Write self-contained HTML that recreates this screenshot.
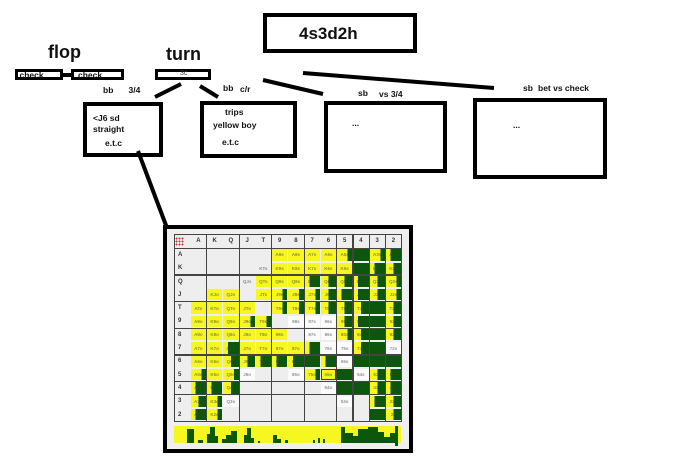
<!DOCTYPE html>
<html><head><meta charset="utf-8"><style>
html,body{margin:0;padding:0;background:#fff;}
body{width:700px;height:465px;position:relative;overflow:hidden;font-family:"Liberation Sans",sans-serif;}
.bx{position:absolute;box-sizing:border-box;border:4px solid #000;background:#fff;}
.sb{position:absolute;box-sizing:border-box;border:3px solid #000;background:#fff;}
.t{position:absolute;font-weight:bold;font-size:8.5px;line-height:1;white-space:nowrap;color:#111;}
.big{position:absolute;font-weight:bold;font-size:18px;line-height:1;white-space:nowrap;color:#111;}
.frame{position:absolute;left:163px;top:225px;width:250px;height:228px;box-sizing:border-box;border:4px solid #000;background:#efefef;}
.m{position:absolute;left:174px;top:234px;width:227.5px;height:187.2px;display:grid;grid-template-columns:repeat(14,16.25px);grid-template-rows:14.3px repeat(13,13.3px);background:#eeeeee;}
.m i{font-style:normal;font-size:4.5px;font-weight:bold;color:rgba(60,60,60,.55);display:flex;align-items:center;justify-content:center;margin:1px .5px;overflow:hidden;white-space:nowrap;}
.m b{font-size:6px;font-weight:bold;color:#333;display:flex;align-items:center;justify-content:center;}
.m b.r{justify-content:flex-start;padding-left:4px;}
.Y{background:#f6f620;}
.G{background:#0b570b;}
.H{background:linear-gradient(90deg,#f6f620 50%,#0b570b 50%);}
.y{background:linear-gradient(90deg,#f6f620 70%,#0b570b 70%);}
.g{background:linear-gradient(90deg,#f6f620 30%,#0b570b 30%);}
.w{background:#fbfbfb;}
.rd{outline:1px solid #c00;outline-offset:-1px;}
.vl{position:absolute;top:234px;width:1.4px;height:187.5px;background:#444;}
.hl{position:absolute;left:174px;height:1.4px;width:228px;background:#444;}
.bar{position:absolute;left:174px;top:426px;width:227px;height:17px;background:#f6f620;}
.bar s{position:absolute;bottom:0;background:#0b570b;text-decoration:none;}
</style></head><body>

<div class="bx" style="left:263px;top:13px;width:154px;height:40px;"></div>
<div class="big" style="left:299px;top:25px;font-size:17px;">4s3d2h</div>

<div class="big" style="left:48px;top:43px;">flop</div>
<div class="big" style="left:166px;top:45px;">turn</div>

<div class="sb" style="left:15px;top:69px;width:48px;height:11px;"></div>
<div class="sb" style="left:71px;top:69px;width:53px;height:11px;"></div>
<div style="position:absolute;left:62px;top:73px;width:10px;height:3.5px;background:#000;"></div>
<div class="sb" style="left:155px;top:69px;width:56px;height:11px;"></div>
<div class="t" style="left:19.5px;top:70.5px;">check</div>
<div class="t" style="left:78px;top:70.5px;">check</div>
<div class="t" style="left:180px;top:70px;font-size:7px;font-weight:normal;color:#444;">3c</div>

<div class="t" style="left:103px;top:85.5px;">bb</div>
<div class="t" style="left:128.5px;top:86px;">3/4</div>
<div class="t" style="left:223px;top:84px;">bb</div>
<div class="t" style="left:240px;top:85px;">c/r</div>

<div class="bx" style="left:83px;top:102px;width:80px;height:55px;"></div>
<div class="t" style="left:93px;top:113.5px;">&lt;J6 sd</div>
<div class="t" style="left:93px;top:124.5px;">straight</div>
<div class="t" style="left:105px;top:139px;">e.t.c</div>

<div class="bx" style="left:200px;top:101px;width:97px;height:57px;"></div>
<div class="t" style="left:225px;top:107.5px;">trips</div>
<div class="t" style="left:213px;top:121px;">yellow boy</div>
<div class="t" style="left:222px;top:137.5px;">e.t.c</div>

<div class="t" style="left:358px;top:89px;">sb</div>
<div class="t" style="left:379px;top:90px;">vs 3/4</div>
<div class="bx" style="left:324px;top:101px;width:123px;height:72px;"></div>
<div class="t" style="left:352px;top:119px;">...</div>

<div class="t" style="left:523px;top:84px;">sb</div>
<div class="t" style="left:538px;top:84px;">bet vs check</div>
<div class="bx" style="left:473px;top:98px;width:134px;height:81px;"></div>
<div class="t" style="left:513px;top:121px;">...</div>

<svg style="position:absolute;left:0;top:0;" width="700" height="465">
<g stroke="#000" stroke-width="4" stroke-linecap="butt">
<line x1="181" y1="84" x2="155" y2="97"/>
<line x1="200" y1="86" x2="218" y2="97"/>
<line x1="263" y1="80" x2="323" y2="94"/>
<line x1="303" y1="73" x2="494" y2="88"/>
<line x1="138" y1="151" x2="167" y2="228"/>
</g>
</svg>

<div class="frame"></div>
<div class="m">
<b style="justify-content:flex-start;padding-left:1px;"><span style="display:inline-block;width:9px;height:9px;background:radial-gradient(circle,#c33 0.8px,transparent 1px) 0 0/3px 3px;"></span></b><b>A</b><b>K</b><b>Q</b><b>J</b><b>T</b><b>9</b><b>8</b><b>7</b><b>6</b><b>5</b><b>4</b><b>3</b><b>2</b>
<b class="r">A</b><i></i><i></i><i></i><i></i><i></i><i class="Y">A9s</i><i class="Y">A8s</i><i class="Y">A7s</i><i class="Y">A6s</i><i class="y">A5s</i><i class="G">A4s</i><i class="y">A3s</i><i class="g">A2s</i>
<b class="r">K</b><i></i><i></i><i></i><i></i><i>KTs</i><i class="Y">K9s</i><i class="Y">K8s</i><i class="Y">K7s</i><i class="Y">K6s</i><i class="Y">K5s</i><i class="G">K4s</i><i class="g">K3s</i><i class="H">K2s</i>
<b class="r">Q</b><i></i><i></i><i></i><i>QJs</i><i class="Y">QTs</i><i class="Y">Q9s</i><i class="Y">Q8s</i><i class="g">Q7s</i><i class="H">Q6s</i><i class="H">Q5s</i><i class="g">Q4s</i><i class="H">Q3s</i><i class="y">Q2s</i>
<b class="r">J</b><i></i><i class="Y">KJo</i><i class="Y">QJo</i><i></i><i class="Y">JTs</i><i class="y">J9s</i><i class="y">J8s</i><i class="y">J7s</i><i class="H">J6s</i><i class="g">J5s</i><i class="g">J4s</i><i class="H">J3s</i><i class="y">J2s</i>
<b class="r">T</b><i class="Y">ATo</i><i class="Y">KTo</i><i class="Y">QTo</i><i class="Y">JTo</i><i></i><i class="y">T9s</i><i class="y">T8s</i><i class="y">T7s</i><i class="H">T6s</i><i class="H">T5s</i><i class="H">T4s</i><i class="G">T3s</i><i class="H">T2s</i>
<b class="r">9</b><i class="Y">A9o</i><i class="Y">K9o</i><i class="Y">Q9o</i><i class="y">J9o</i><i class="y">T9o</i><i></i><i class="w">98s</i><i class="w">97s</i><i class="w">96s</i><i class="H">95s</i><i class="g">94s</i><i class="G">93s</i><i class="H">92s</i>
<b class="r">8</b><i class="Y">A8o</i><i class="Y">K8o</i><i class="Y">Q8o</i><i class="Y">J8o</i><i class="Y">T8o</i><i class="Y">98o</i><i></i><i class="w">87s</i><i class="w">86s</i><i class="y">85s</i><i class="H">84s</i><i class="G">83s</i><i class="H">82s</i>
<b class="r">7</b><i class="Y">A7o</i><i class="Y">K7o</i><i class="g">Q7o</i><i class="Y">J7o</i><i class="Y">T7o</i><i class="Y">97o</i><i class="Y">87o</i><i class="g">77</i><i class="w">76s</i><i class="w">75s</i><i class="H">74s</i><i class="G">73s</i><i class="w">72s</i>
<b class="r">6</b><i class="Y">A6o</i><i class="Y">K6o</i><i class="H">Q6o</i><i class="H">J6o</i><i class="g">T6o</i><i class="g">96o</i><i class="g">86o</i><i class="G">76o</i><i class="g">66</i><i class="w">65s</i><i class="G">64s</i><i class="G">63s</i><i class="G">62s</i>
<b class="r">5</b><i class="y">A5o</i><i class="Y">K5o</i><i class="y">Q5o</i><i class="w">J5o</i><i></i><i></i><i class="w">85o</i><i class="y">75o</i><i class="Y rd">65o</i><i class="G">55</i><i class="w">54s</i><i class="H">53s</i><i class="g">52s</i>
<b class="r">4</b><i class="g">A4o</i><i class="g">K4o</i><i class="H">Q4o</i><i></i><i></i><i></i><i></i><i></i><i class="w">64o</i><i class="G">54o</i><i class="G">44</i><i class="H">43s</i><i class="g">42s</i>
<b class="r">3</b><i class="H">A3o</i><i class="y">K3o</i><i class="w">Q3o</i><i></i><i></i><i></i><i></i><i></i><i></i><i class="w">53o</i><i></i><i class="g">33</i><i class="H">32s</i>
<b class="r">2</b><i class="g">A2o</i><i class="y">K2o</i><i></i><i></i><i></i><i></i><i></i><i></i><i></i><i></i><i></i><i class="G">32o</i><i class="H">22</i>
</div>
<div class="vl" style="left:173.5px"></div>
<div class="vl" style="left:206px"></div>
<div class="vl" style="left:238.5px"></div>
<div class="vl" style="left:271px"></div>
<div class="vl" style="left:303.5px"></div>
<div class="vl" style="left:336px"></div>
<div class="vl" style="left:352.2px"></div>
<div class="vl" style="left:368.5px"></div>
<div class="vl" style="left:384.7px"></div>
<div class="vl" style="left:401px"></div>
<div class="hl" style="top:233.5px"></div>
<div class="hl" style="top:247.8px"></div>
<div class="hl" style="top:274.4px"></div>
<div class="hl" style="top:301px"></div>
<div class="hl" style="top:327.6px"></div>
<div class="hl" style="top:354.2px"></div>
<div class="hl" style="top:380.8px"></div>
<div class="hl" style="top:394.1px"></div>
<div class="hl" style="top:420.7px"></div>

<div class="bar">
<s style="left:13px;width:7px;height:14px"></s>
<s style="left:24px;width:5px;height:3px"></s>
<s style="left:33px;width:3px;height:9px"></s>
<s style="left:36px;width:5px;height:16px"></s>
<s style="left:41px;width:3px;height:7px"></s>
<s style="left:48px;width:4px;height:4px"></s>
<s style="left:52px;width:5px;height:8px"></s>
<s style="left:57px;width:6px;height:12px"></s>
<s style="left:70px;width:3px;height:8px"></s>
<s style="left:73px;width:4px;height:15px"></s>
<s style="left:77px;width:3px;height:5px"></s>
<s style="left:84px;width:2px;height:2px"></s>
<s style="left:99px;width:4px;height:8px"></s>
<s style="left:103px;width:4px;height:4px"></s>
<s style="left:111px;width:3px;height:3px"></s>
<s style="left:139px;width:2px;height:3px"></s>
<s style="left:144px;width:2px;height:5px"></s>
<s style="left:149px;width:2px;height:4px"></s>
<s style="left:167px;width:4px;height:16px"></s>
<s style="left:171px;width:8px;height:10px"></s>
<s style="left:179px;width:5px;height:7px"></s>
<s style="left:184px;width:10px;height:14px"></s>
<s style="left:194px;width:10px;height:16px"></s>
<s style="left:204px;width:6px;height:11px"></s>
<s style="left:210px;width:6px;height:6px"></s>
<s style="left:216px;width:5px;height:10px"></s>
<s style="left:221px;width:3px;bottom:-3px;height:20px"></s>
</div>
</body></html>
